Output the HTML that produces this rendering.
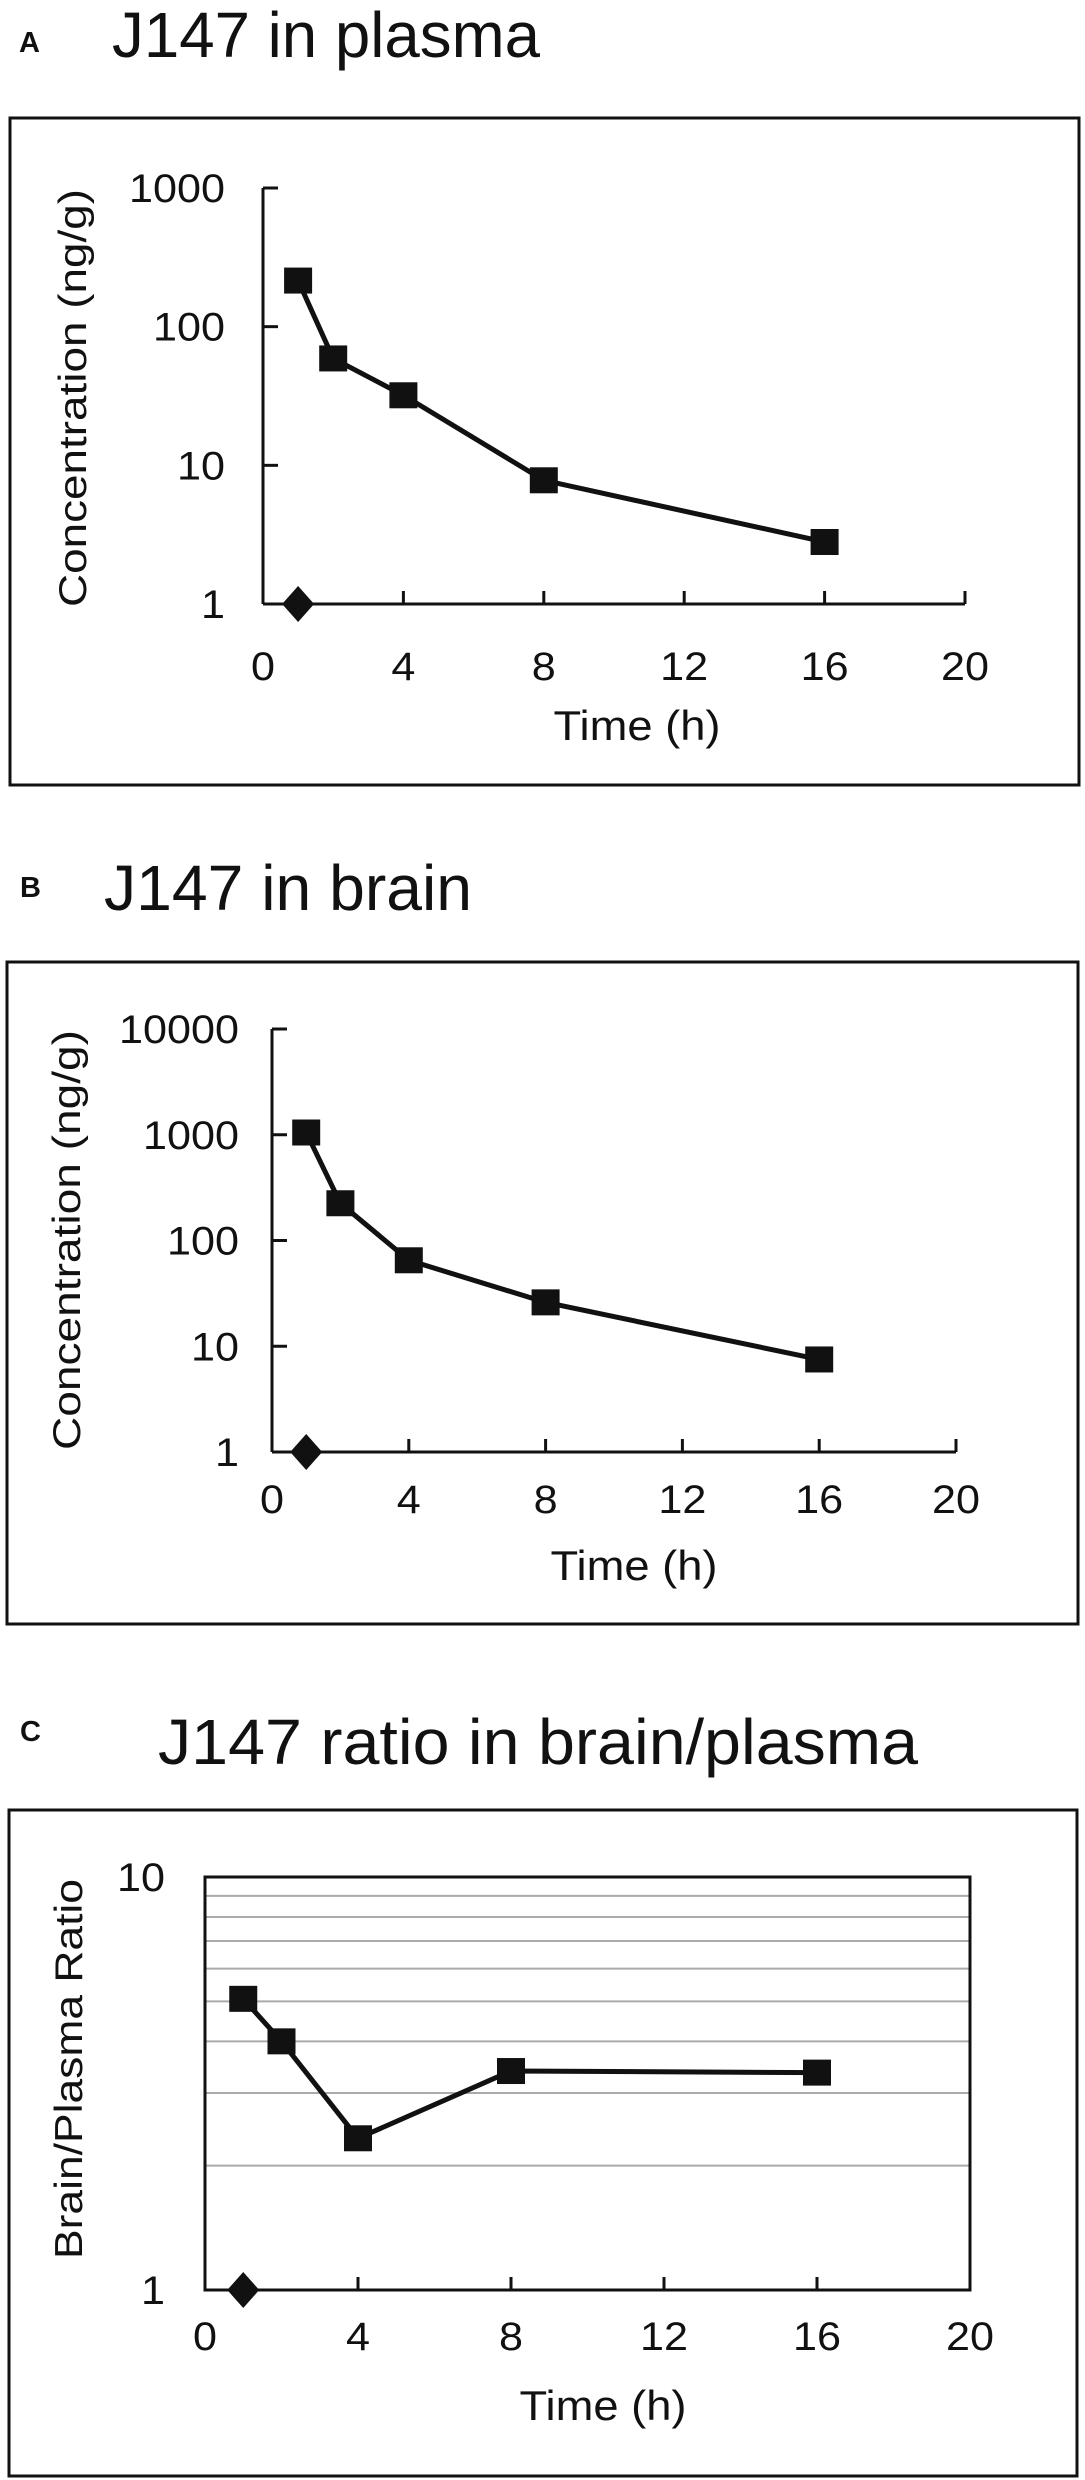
<!DOCTYPE html>
<html><head><meta charset="utf-8">
<style>
html,body{margin:0;padding:0;background:#fff;}
svg{display:block;}
text{font-family:"Liberation Sans",sans-serif;fill:#111;}
</style></head>
<body>
<svg id="fig" width="1085" height="2480" viewBox="0 0 1085 2480" xmlns="http://www.w3.org/2000/svg">
  <g>
    <text x="19" y="52" font-size="29" font-weight="bold">A</text>
    <text x="112" y="57" font-size="64" textLength="428" lengthAdjust="spacingAndGlyphs">J147 in plasma</text>
    <rect x="10" y="118" width="1069" height="667" fill="none" stroke="#111" stroke-width="3"/>
    <g id="chartA"></g>
  </g>
  <g>
    <text x="20" y="897" font-size="29" font-weight="bold">B</text>
    <text x="104" y="910" font-size="64" textLength="368" lengthAdjust="spacingAndGlyphs">J147 in brain</text>
    <rect x="7" y="962" width="1071" height="662" fill="none" stroke="#111" stroke-width="3"/>
    <g id="chartB"></g>
  </g>
  <g>
    <text x="20" y="1741" font-size="29" font-weight="bold">C</text>
    <text x="158" y="1764" font-size="64" textLength="760" lengthAdjust="spacingAndGlyphs">J147 ratio in brain/plasma</text>
    <rect x="9" y="1810" width="1068" height="666" fill="none" stroke="#111" stroke-width="3"/>
    <g id="chartC"></g>
  </g>
</svg>
<script>
// ---- data ----
const timeValues = [1, 2, 4, 8, 16];
const plasmaConc = [215, 59, 32, 7.8, 2.8];
const brainConc = [1050, 225, 65, 26, 7.5];
const ratioValues = [5.07, 4.0, 2.33, 3.39, 3.36];
const baselineTime = [1];
const xTickLabels = ["0", "4", "8", "12", "16", "20"];
const xTickValues = [0, 4, 8, 12, 16, 20];
const yTicksA = [1, 10, 100, 1000];
const yTicksB = [1, 10, 100, 1000, 10000];
const yTicksC = [1, 10];
const gridC = [2, 3, 4, 5, 6, 7, 8, 9];

const NS = "http://www.w3.org/2000/svg";
function mk(parent, tag, attrs) {
  const e = document.createElementNS(NS, tag);
  for (const k in attrs) e.setAttribute(k, attrs[k]);
  parent.appendChild(e);
  return e;
}

function drawChart(g, cfg) {
  const xs = v => cfg.x0 + (v - cfg.xmin) / (cfg.xmax - cfg.xmin) * (cfg.x1 - cfg.x0);
  const ys = v => cfg.yb - (Math.log10(v) - Math.log10(cfg.ymin)) / (Math.log10(cfg.ymax) - Math.log10(cfg.ymin)) * (cfg.yb - cfg.yt);
  (cfg.grid || []).forEach(v => {
    const l = mk(g, "line", {x1: cfg.x0, x2: cfg.x1, y1: ys(v), y2: ys(v), stroke: "#aaa", "stroke-width": 2});
    
    
  });
  if (cfg.box) {
    const r = mk(g, "rect", {x: cfg.x0, y: cfg.yt, width: cfg.x1 - cfg.x0, height: cfg.yb - cfg.yt, fill: "none", stroke: "#111", "stroke-width": 3});
    
    
  } else {
    const ya = mk(g, "line", {x1: cfg.x0, x2: cfg.x0, y1: cfg.yt, y2: cfg.yb, stroke: "#111", "stroke-width": 3});
    
    
    const xa = mk(g, "line", {x1: cfg.x0, x2: cfg.x1, y1: cfg.yb, y2: cfg.yb, stroke: "#111", "stroke-width": 3});
    
    
    cfg.yticks.forEach(v => {
      const t = mk(g, "line", {x1: cfg.x0, x2: cfg.x0 + 15, y1: ys(v), y2: ys(v), stroke: "#111", "stroke-width": 3});
      
      
    });
  }
  xTickValues.forEach((v, i) => {
    if (v > 0) {
      const t = mk(g, "line", {x1: xs(v), x2: xs(v), y1: cfg.yb, y2: cfg.yb - 13, stroke: "#111", "stroke-width": 3});
      
      
    }
    const lbl = xTickLabels[i];
    const tx = mk(g, "text", {x: xs(v), y: cfg.xlabY, "font-size": 40, "text-anchor": "middle", textLength: 24 * lbl.length, lengthAdjust: "spacingAndGlyphs"});
    tx.textContent = lbl;
    
    
  });
  cfg.yticks.forEach(v => {
    const s = String(v);
    const tx = mk(g, "text", {x: cfg.ylabRight, y: ys(v) + 14, "font-size": 40, "text-anchor": "end", textLength: 24 * s.length, lengthAdjust: "spacingAndGlyphs"});
    tx.textContent = s;
    
    
  });
  const xt = mk(g, "text", {x: cfg.xtitleX, y: cfg.xtitleY, "font-size": 42, "text-anchor": "middle", textLength: 167, lengthAdjust: "spacingAndGlyphs"});
  xt.textContent = "Time (h)";
  
  
  const yt = mk(g, "text", {x: 0, y: 0, "font-size": 39, "text-anchor": "middle", textLength: cfg.ytitleLen, lengthAdjust: "spacingAndGlyphs", transform: "translate(" + cfg.ytitleX + "," + cfg.ytitleY + ") rotate(-90)"});
  yt.textContent = cfg.ytitle;
  
  
  const pts = timeValues.map((t, i) => xs(t) + "," + ys(cfg.values[i])).join(" ");
  const pl = mk(g, "polyline", {points: pts, fill: "none", stroke: "#111", "stroke-width": 5});
  
  
  timeValues.forEach((t, i) => {
    const cx = xs(t), cy = ys(cfg.values[i]);
    const m = mk(g, "rect", {x: cx - 14, y: cy - 13, width: 28, height: 26, fill: "#111"});
    
    
  });
  baselineTime.forEach(t => {
    const cx = xs(t), cy = cfg.yb;
    const d = mk(g, "polygon", {points: [cx + "," + (cy - 18), (cx + 16) + "," + cy, cx + "," + (cy + 18), (cx - 16) + "," + cy].join(" "), fill: "#111"});
    
    
  });
}

drawChart(document.getElementById("chartA"), {
  x0: 263, x1: 965, xmin: 0, xmax: 20, yt: 188, yb: 604, ymin: 1, ymax: 1000,
  yticks: yTicksA, values: plasmaConc, xlabY: 680, ylabRight: 225,
  xtitleX: 637, xtitleY: 740, ytitle: "Concentration (ng/g)", ytitleX: 86, ytitleY: 398, ytitleLen: 418
});
drawChart(document.getElementById("chartB"), {
  x0: 272, x1: 956, xmin: 0, xmax: 20, yt: 1029, yb: 1452, ymin: 1, ymax: 10000,
  yticks: yTicksB, values: brainConc, xlabY: 1513, ylabRight: 239,
  xtitleX: 634, xtitleY: 1580, ytitle: "Concentration (ng/g)", ytitleX: 80, ytitleY: 1240, ytitleLen: 420
});
drawChart(document.getElementById("chartC"), {
  x0: 205, x1: 970, xmin: 0, xmax: 20, yt: 1877, yb: 2290, ymin: 1, ymax: 10, box: true, grid: gridC,
  yticks: yTicksC, values: ratioValues, xlabY: 2350, ylabRight: 165,
  xtitleX: 603, xtitleY: 2420, ytitle: "Brain/Plasma Ratio", ytitleX: 82, ytitleY: 2069, ytitleLen: 380
});
</script>
</body></html>
